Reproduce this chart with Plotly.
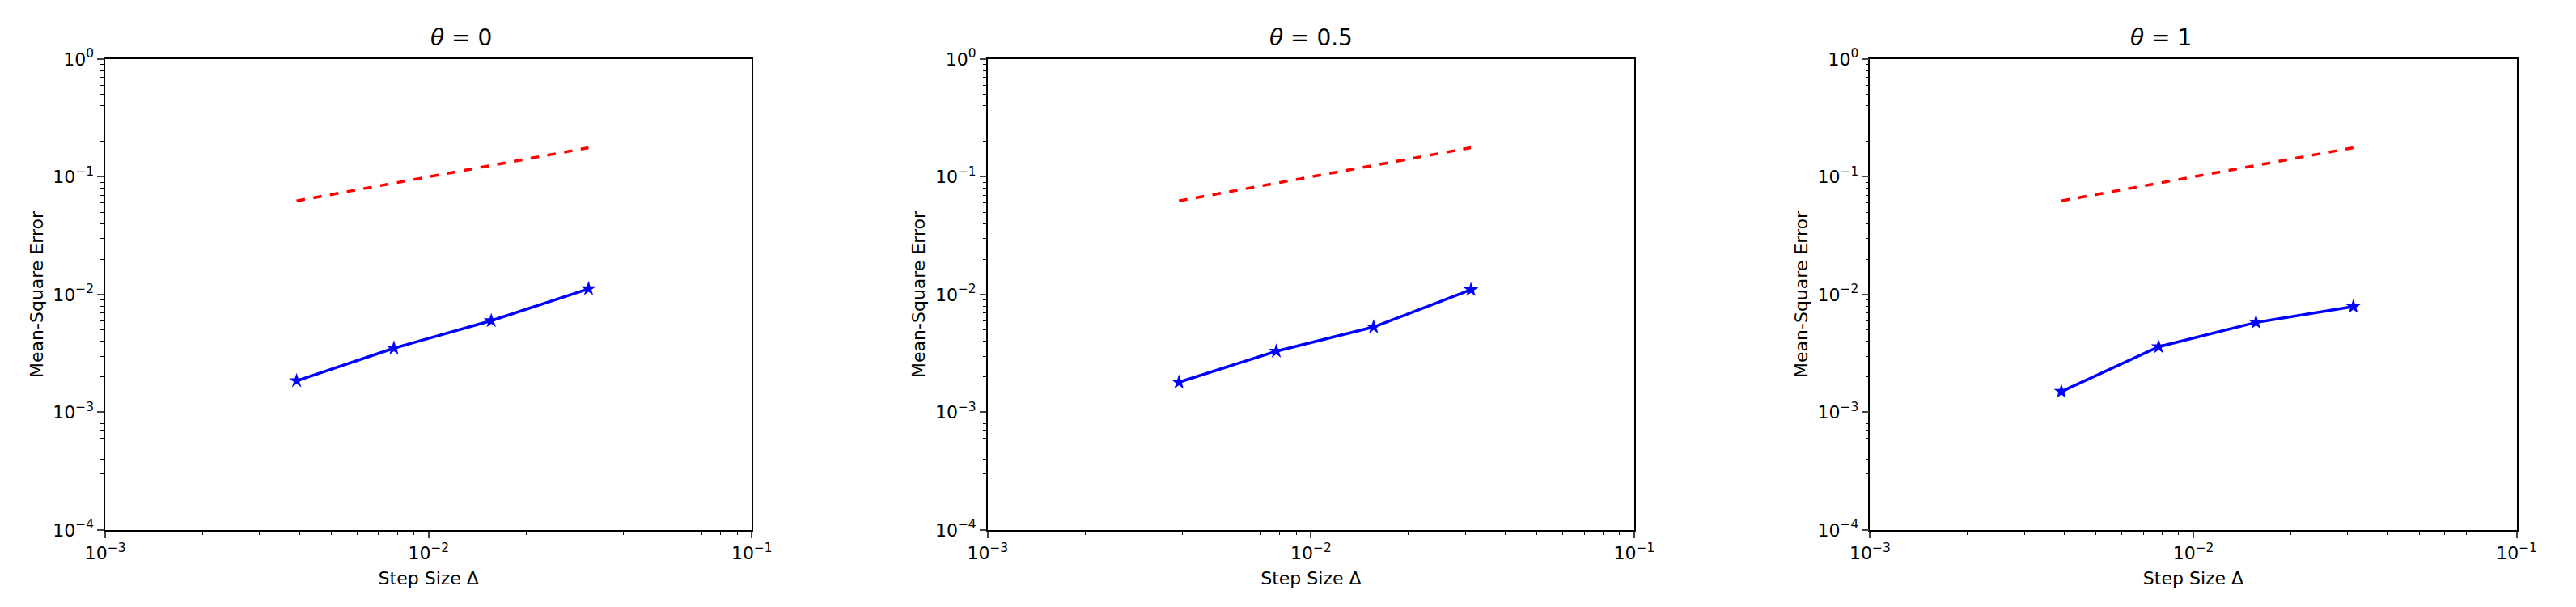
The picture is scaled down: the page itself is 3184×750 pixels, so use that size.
import plotly.graph_objects as go

step = [1/256, 1/128, 1/64, 1/32]
ref_line = [0.0625, 0.0884, 0.125, 0.1768]
mse_theta0 = [1.85e-3, 3.5e-3, 6.0e-3, 1.12e-2]
mse_theta05 = [1.8e-3, 3.3e-3, 5.3e-3, 1.1e-2]
mse_theta1 = [1.5e-3, 3.6e-3, 5.8e-3, 7.9e-3]
titles = ["<i>θ</i> = 0", "<i>θ</i> = 0.5", "<i>θ</i> = 1"]
xtick_vals = [1e-3, 1e-2, 1e-1]
xtick_text = ["10<sup>−3</sup>", "10<sup>−2</sup>", "10<sup>−1</sup>"]
ytick_vals = [1e-4, 1e-3, 1e-2, 1e-1, 1]
ytick_text = ["10<sup>−4</sup>", "10<sup>−3</sup>", "10<sup>−2</sup>", "10<sup>−1</sup>", "10<sup>0</sup>"]
x_minor = [m * 10.0 ** e for e in (-3, -2) for m in range(2, 10)]
y_minor = [m * 10.0 ** e for e in (-4, -3, -2, -1) for m in range(2, 10)]

series = [mse_theta0, mse_theta05, mse_theta1]
xdoms = [(0.031, 0.286), (0.379, 0.634), (0.727, 0.982)]
ydom = (0.125, 0.932)

fig = go.Figure()
font = dict(family="DejaVu Sans", size=22, color="black")
for i, (ys, dom) in enumerate(zip(series, xdoms)):
    sfx = "" if i == 0 else str(i + 1)
    fig.add_trace(go.Scatter(x=step, y=ref_line, mode="lines",
                             line=dict(color="red", dash="dash", width=3.5),
                             xaxis="x" + sfx, yaxis="y" + sfx, showlegend=False))
    fig.add_trace(go.Scatter(x=step, y=ys, mode="lines+markers",
                             line=dict(color="blue", width=3.5),
                             marker=dict(symbol="star", size=14, color="blue"),
                             xaxis="x" + sfx, yaxis="y" + sfx, showlegend=False))
    common = dict(type="log", showgrid=False, zeroline=False, showline=True, mirror=True,
                  linecolor="black", linewidth=1.5, ticks="outside", ticklen=8, tickwidth=1.5,
                  tickfont=font)
    fig.layout["xaxis" + sfx] = dict(common, domain=dom, range=[-3, -1], anchor="y" + sfx,
                                     tickvals=xtick_vals, ticktext=xtick_text,
                                     minor=dict(ticks="outside", ticklen=4, tickwidth=1, tickcolor="black",
                                                showgrid=False, tickmode="array", tickvals=x_minor),
                                     title=dict(text="Step Size Δ", font=font, standoff=12))
    fig.layout["yaxis" + sfx] = dict(common, domain=ydom, range=[-4, 0], anchor="x" + sfx,
                                     tickvals=ytick_vals, ticktext=ytick_text,
                                     minor=dict(ticks="outside", ticklen=4, tickwidth=1, tickcolor="black",
                                                showgrid=False, tickmode="array", tickvals=y_minor),
                                     title=dict(text="Mean-Square Error", font=font, standoff=6))
    fig.add_annotation(text=titles[i], x=(dom[0] + dom[1]) / 2, y=ydom[1], xref="paper", yref="paper",
                       yanchor="bottom", yshift=8, showarrow=False,
                       font=dict(family="DejaVu Sans", size=28, color="black"))

fig.update_layout(width=3184, height=750, margin=dict(l=0, r=0, t=0, b=0),
                  plot_bgcolor="white", paper_bgcolor="white")
fig.write_html("out.html")
